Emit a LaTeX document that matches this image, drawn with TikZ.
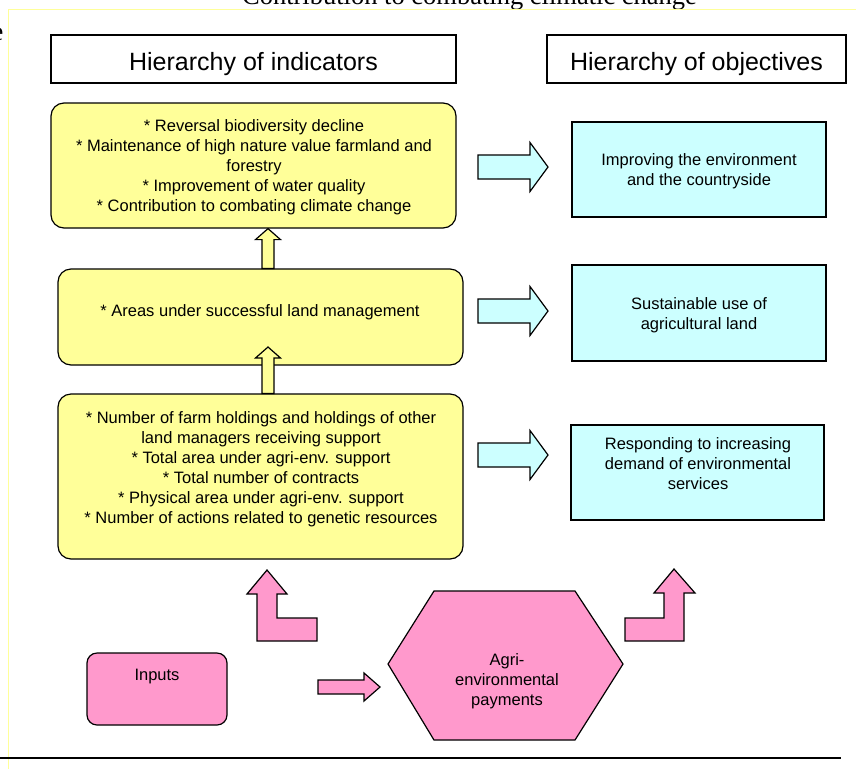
\documentclass[tikz,border=0pt]{standalone}
\usepackage{fontspec}
\setmainfont{Liberation Sans}
\newfontfamily\seriffont{Liberation Serif}
\usetikzlibrary{calc}
\definecolor{ylw}{HTML}{FFFF99}
\definecolor{cyn}{HTML}{CCFFFF}
\definecolor{pnk}{HTML}{FF99CC}
\definecolor{framey}{HTML}{FFFF99}
\newcommand\hblock[6]{%
  \draw[#1] let \p1=(#2), \p2=(#3) in
  (\x1,{\y1+#4}) -- ({\x2-#6},{\y1+#4}) -- ({\x2-#6},{\y1+#5}) -- (\x2,\y1)
  -- ({\x2-#6},{\y1-#5}) -- ({\x2-#6},{\y1-#4}) -- (\x1,{\y1-#4}) -- cycle;}
\newcommand\vblock[6]{%
  \draw[#1] let \p1=(#2), \p2=(#3) in
  ({\x1-#4},\y1) -- ({\x1-#4},{\y2-#6}) -- ({\x1-#5},{\y2-#6}) -- (\x1,\y2)
  -- ({\x1+#5},{\y2-#6}) -- ({\x1+#4},{\y2-#6}) -- ({\x1+#4},\y1) -- cycle;}
\tikzset{
  body/.style={font=\fontsize{16.5}{20}\selectfont, align=center, inner sep=0},
  head/.style={font=\fontsize{25}{30}\selectfont, inner sep=0, anchor=base},
  hbox/.style={draw, line width=1.2pt, fill=white, inner sep=0},
  ybox/.style={draw, line width=1.2pt, fill=ylw, rounded corners=13pt, inner sep=0},
  cbox/.style={draw, line width=1.2pt, fill=cyn, inner sep=0},
  pshape/.style={draw, line width=1.2pt, fill=pnk, line join=miter},
  carrow/.style={draw, line width=1.2pt, fill=cyn},
  yarrow/.style={draw, line width=1.2pt, fill=ylw},
  parrow/.style={draw, line width=1.2pt, fill=pnk},
}
\begin{document}
\begin{tikzpicture}[x=1pt, y=-1pt]
\useasboundingbox (0,0) rectangle (856,769);
\clip (0,0) rectangle (856,769);
% stray texts and frame
\node[font=\seriffont\fontsize{26.5}{30}\selectfont, anchor=base, inner sep=0] (title) at (469.5,4) {Contribution to combating climatic change};
\node[font=\seriffont\fontsize{26.5}{30}\selectfont, anchor=base east, inner sep=0] (edgee) at (3.5,40) {e};
\draw[framey, line width=1.5pt] (8.3,769) -- (8.3,9.3) -- (856,9.3);
\draw[line width=2pt] (0,758) -- (841,758);
% headers
\node[hbox, minimum width=405, minimum height=48] (h1) at (253.5,59) {};
\node[hbox, minimum width=299, minimum height=48] (h2) at (696.5,59) {};
\node[head] (h1t) at (h1.center |- 0,70) {Hierarchy of indicators};
\node[head] (h2t) at (h2.center |- 0,70) {Hierarchy of objectives};
% indicator boxes
\node[ybox, minimum width=405, minimum height=125] (b1) at (253.5,165.5) {};
\node[ybox, minimum width=405, minimum height=96] (b2) at (260.5,317) {};
\node[ybox, minimum width=405, minimum height=165] (b3) at (260.5,476.5) {};
\node[body] (b1t) at (254,167) {* Reversal biodiversity decline\\* Maintenance of high nature value farmland and\\forestry\\* Improvement of water quality\\* Contribution to combating climate change};
\node[body] (b2t) at (260,312) {* Areas under successful land management};
\node[body] (b3t) at (261,469) {* Number of farm holdings and holdings of other\\land managers receiving support\\* Total area under agri-env. support\\* Total number of contracts\\* Physical area under agri-env. support\\* Number of actions related to genetic resources};
% objective boxes
\node[cbox, minimum width=254, minimum height=95] (c1) at (699,169.5) {};
\node[cbox, minimum width=254, minimum height=96] (c2) at (699,313) {};
\node[cbox, minimum width=253, minimum height=95] (c3) at (697.5,472.5) {};
\node[body] (c1t) at (699,171.5) {Improving the environment\\and the countryside};
\node[body] (c2t) at (699,315) {Sustainable use of\\agricultural land};
\node[body] (c3t) at (698,464) {Responding to increasing\\demand of environmental\\services};
% up arrows
\coordinate (ax) at (268,0);
\coordinate (a2tip) at (268,347);
\vblock{yarrow}{ax |- b2.north}{ax |- b1.south}{6pt}{12.5pt}{11pt}
\vblock{yarrow}{ax |- b3.north}{a2tip}{6pt}{12.5pt}{11pt}
% right arrows
\coordinate (r1a) at (478,167); \coordinate (r1b) at (548,167);
\coordinate (r2a) at (478,311); \coordinate (r2b) at (548,311);
\coordinate (r3a) at (478,455); \coordinate (r3b) at (548,455);
\hblock{carrow}{r1a}{r1b}{12pt}{24.5pt}{18pt}
\hblock{carrow}{r2a}{r2b}{12pt}{24.5pt}{18pt}
\hblock{carrow}{r3a}{r3b}{12pt}{24.5pt}{18pt}
% inputs and payments
\node[draw, line width=1.2pt, fill=pnk, rounded corners=10pt, minimum width=140, minimum height=72, inner sep=0] (inp) at (157,689) {};
\node[body] (inpt) at (157,677) {Inputs};
\draw[pshape] (388,664) -- (434,591) -- (575,591) -- (623,664) -- (575,740) -- (434,740) -- cycle;
\node[body] (hext) at (507,681) {Agri-\\environmental\\payments};
\coordinate (pa) at (318,687); \coordinate (pb) at (380,687);
\hblock{parrow}{pa}{pb}{7pt}{14pt}{16pt}
% L-shaped arrows
\draw[pshape] (267,570) -- (287,594) -- (277,594) -- (277,618) -- (317,618) -- (317,641) -- (257,641) -- (257,594) -- (247,594) -- cycle;
\draw[pshape] (674,569) -- (695,593) -- (684,593) -- (684,641) -- (625,641) -- (625,618) -- (664,618) -- (664,593) -- (654,593) -- cycle;
\end{tikzpicture}
\end{document}
